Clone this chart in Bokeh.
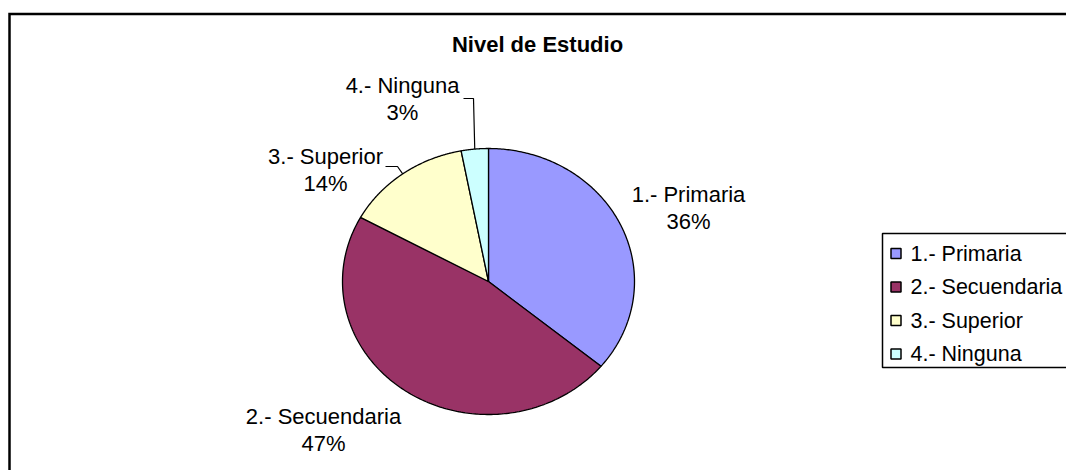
import numpy as np
from bokeh.plotting import figure
from bokeh.models import Range1d
from bokeh.core.properties import value
from bokeh.embed import file_html
from bokeh.resources import INLINE

# ---- data ----
title_text = "Nivel de Estudio"
categories = ["1.- Primaria", "2.- Secuendaria", "3.- Superior", "4.- Ninguna"]
percent = [36, 47, 14, 3]
colors = ["#9999FF", "#993366", "#FFFFCC", "#CCFFFF"]

# ---- layout (screen-like coordinate space) ----
W, H = 1066, 470
FONT = "Liberation Sans"
p = figure(width=W, height=H, output_backend="svg", toolbar_location=None,
           x_range=Range1d(0, W), y_range=Range1d(H, 0),
           x_axis_type=None, y_axis_type=None, min_border=0)
p.grid.visible = False
p.outline_line_color = None
p.background_fill_color = "white"
p.border_fill_color = "white"

# outer chart frame (left and top visible)
p.line([9, 9, 1090], [490, 13.5, 13.5], line_color="black", line_width=2.5,
       line_join="miter")

# ---- pie (elliptical, clockwise from 12 o'clock) ----
cx, cy, rx, ry = 488, 281, 146, 133
vals = np.array(percent, dtype=float)
frac = vals / vals.sum()
ends = np.cumsum(frac)
starts = ends - frac
xs, ys = [], []
for s, e in zip(starts, ends):
    t = np.linspace(s * 2 * np.pi, e * 2 * np.pi, 200)
    xs.append(np.concatenate([[cx], cx + rx * np.sin(t), [cx]]))
    ys.append(np.concatenate([[cy], cy - ry * np.cos(t), [cy]]))
p.patches(xs, ys, fill_color=colors, line_color="black", line_width=1.3)

# ---- data labels ----
label_pos = [(688, 194), (323, 416), (325, 156), (402, 85)]
lx = [q[0] for q in label_pos]
ly1 = [q[1] for q in label_pos]
ly2 = [q[1] + 26.5 for q in label_pos]
p.text(x=lx, y=ly1, text=categories, text_font=value(FONT), text_font_size="22px",
       text_align="center", text_baseline="middle", text_color="black")
p.text(x=lx, y=ly2, text=[f"{v}%" for v in percent], text_font=value(FONT),
       text_font_size="22px", text_align="center", text_baseline="middle",
       text_color="black")

# leader lines for the small slices (end at slice mid-angle on the edge)
mid = (starts + ends) / 2 * 2 * np.pi
leader_start = {2: [(385, 166), (397, 166)], 3: [(463, 98), (473, 98)]}
for i, pts in leader_start.items():
    ex = cx + rx * np.sin(mid[i])
    ey = cy - ry * np.cos(mid[i])
    p.line([pts[0][0], pts[1][0], ex], [pts[0][1], pts[1][1], ey],
           line_color="black", line_width=1.2)

# ---- title ----
p.text(x=[537], y=[44], text=[title_text], text_font=value(FONT),
       text_font_size="22px", text_font_style="bold", text_align="center",
       text_baseline="middle", text_color="black")

# ---- legend (manual, box clipped at right edge like the reference) ----
p.quad(left=[882], right=[1100], top=[233], bottom=[367], fill_color="white",
       line_color="black", line_width=1.5)
rows = [253, 286.5, 320, 353.5]
p.rect(x=[895.5] * len(categories), y=rows, width=10, height=10,
       fill_color=colors, line_color="black", line_width=1.5)
p.text(x=[910] * len(categories), y=rows, text=categories,
       text_font=value(FONT), text_font_size="21.5px", text_align="left",
       text_baseline="middle", text_color="black")

open("out.html", "w").write(file_html(p, INLINE))
